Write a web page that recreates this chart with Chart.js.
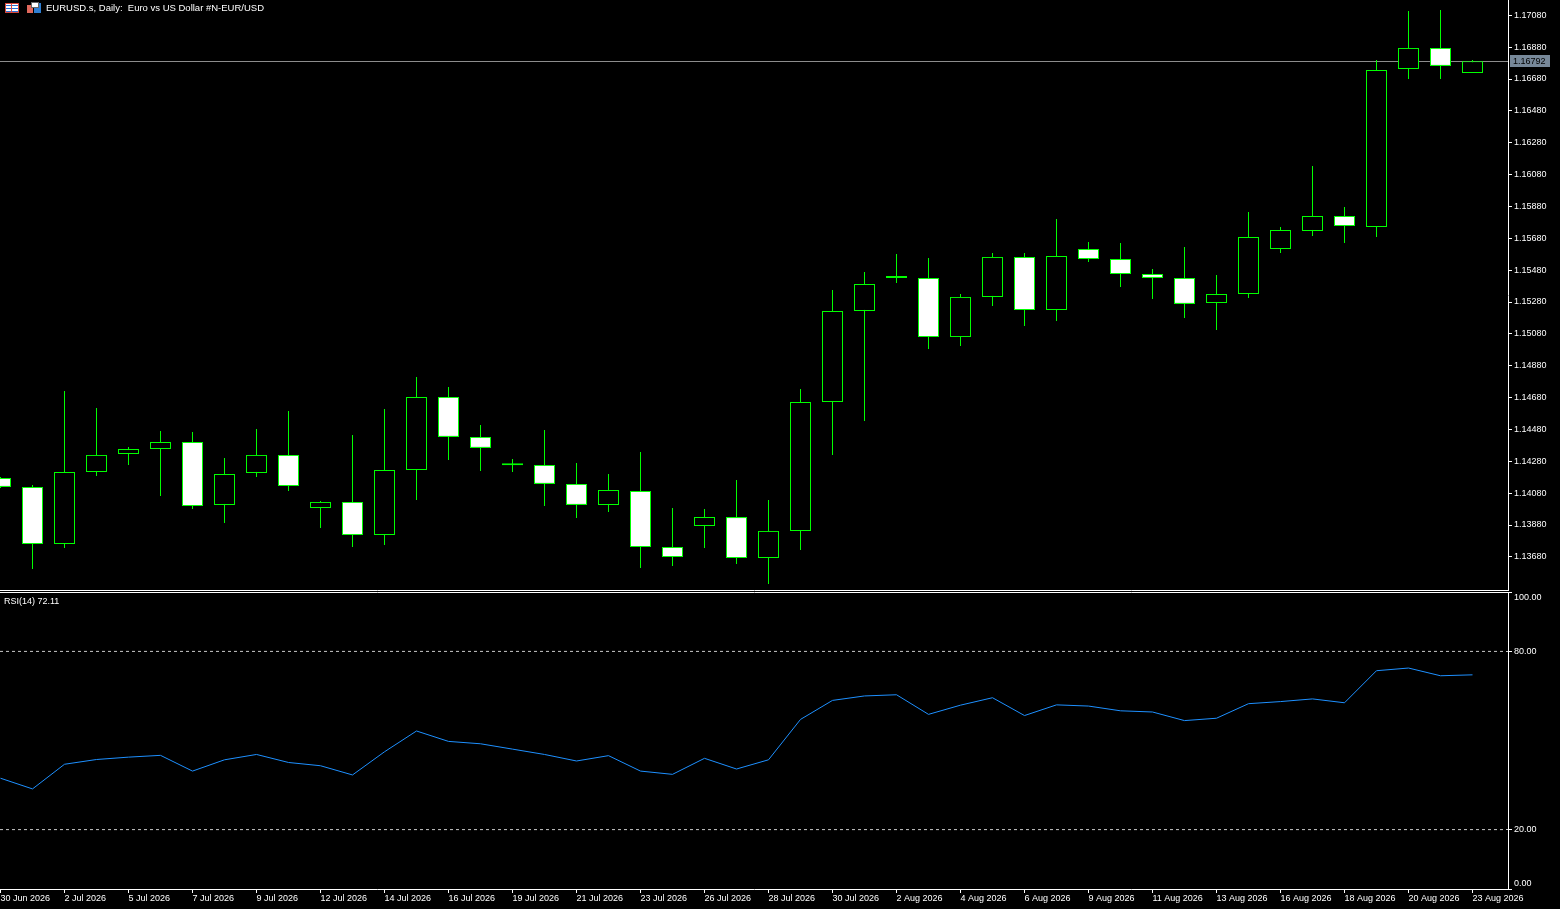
<!DOCTYPE html>
<html>
<head>
<meta charset="utf-8">
<title>EURUSD.s, Daily</title>
<script src="https://cdn.jsdelivr.net/npm/chart.js@4.4.1/dist/chart.umd.min.js"></script>
<style>
    html, body { margin: 0; padding: 0; background: #000; overflow: hidden; }
    #wrap { position: relative; width: 1560px; height: 909px; background: #000; }
    canvas { position: absolute; left: 0; }
    #main { top: 0; }
    #rsi { top: 591px; }
    .lbl { position: absolute; color: #fff; font-family: "Liberation Sans", Arial, sans-serif; white-space: pre; }
    #title { left: 46px; top: 2px; font-size: 9.5px; line-height: 12px; }
    #rsiTitle { left: 4px; top: 595px; font-size: 9px; line-height: 12px; }
    .icon { position: absolute; }
    #icon1 { left: 5px; top: 3px; width: 12px; height: 8px; border: 1px solid #d9483b;
             background: repeating-linear-gradient(180deg, #fff 0 1px, #2a6fd6 1px 2px, #fff 2px 3px); }
    #icon1:after { content: ""; position: absolute; left: 5px; top: 0; width: 1px; height: 8px; background: #d9483b; }
    #icon2 { left: 27px; top: 2px; width: 14px; height: 11px; }
    #icon2 .a { position: absolute; left: 0; top: 3px; width: 6px; height: 8px; background: #e0685c; }
    #icon2 .b { position: absolute; left: 7px; top: 1px; width: 7px; height: 10px; background: #2f7fd2; }
    #icon2 .c { position: absolute; left: 4px; top: 0; width: 6px; height: 4px; background: #fff; border: 1px solid #666; }
</style>
</head>
<body>
<div id="wrap">
    <canvas id="main" width="1560" height="591"></canvas>
    <canvas id="rsi" width="1560" height="318"></canvas>
    <div class="icon" id="icon1"></div>
    <div class="icon" id="icon2"><div class="a"></div><div class="b"></div><div class="c"></div></div>
    <div class="lbl" id="title">EURUSD.s, Daily:  Euro vs US Dollar #N-EUR/USD</div>
    <div class="lbl" id="rsiTitle">RSI(14) 72.11</div>
</div>
<script>
// tick labels on the time axis (one every second bar)
const tickDates = ['30 Jun 2026', '2 Jul 2026', '5 Jul 2026', '7 Jul 2026', '9 Jul 2026', '12 Jul 2026',
    '14 Jul 2026', '16 Jul 2026', '19 Jul 2026', '21 Jul 2026', '23 Jul 2026', '26 Jul 2026',
    '28 Jul 2026', '30 Jul 2026', '2 Aug 2026', '4 Aug 2026', '6 Aug 2026', '9 Aug 2026',
    '11 Aug 2026', '13 Aug 2026', '16 Aug 2026', '18 Aug 2026', '20 Aug 2026', '23 Aug 2026'];

const opens = [1.14175, 1.14119, 1.13761, 1.14213, 1.14326, 1.14357, 1.14401, 1.14006, 1.14207, 1.14320,
    1.13987, 1.14025, 1.13817, 1.14225, 1.14684, 1.14433, 1.14259, 1.14257, 1.14138, 1.14006,
    1.14094, 1.13742, 1.13874, 1.13930, 1.13673, 1.13843, 1.14652, 1.15224, 1.15431, 1.15431,
    1.15060, 1.15312, 1.15563, 1.15230, 1.15613, 1.15550, 1.15456, 1.15431, 1.15274, 1.15330,
    1.15613, 1.15726, 1.15820, 1.15751, 1.16743, 1.16875, 1.16718];
const highs = [1.14182, 1.14131, 1.14721, 1.14615, 1.14370, 1.14470, 1.14464, 1.14301, 1.14483, 1.14596,
    1.14031, 1.14445, 1.14608, 1.14809, 1.14747, 1.14508, 1.14294, 1.14477, 1.14269, 1.14200,
    1.14338, 1.13987, 1.13981, 1.14163, 1.14037, 1.14734, 1.15356, 1.15469, 1.15582, 1.15556,
    1.15330, 1.15588, 1.15588, 1.15801, 1.15657, 1.15651, 1.15487, 1.15625, 1.15450, 1.15845,
    1.15751, 1.16134, 1.15877, 1.16799, 1.17107, 1.17113, 1.16799];
const lows = [1.14112, 1.13604, 1.13736, 1.14188, 1.14257, 1.14062, 1.13981, 1.13893, 1.14182, 1.14094,
    1.13861, 1.13742, 1.13755, 1.14037, 1.14288, 1.14219, 1.14213, 1.13999, 1.13924, 1.13962,
    1.13610, 1.13623, 1.13736, 1.13635, 1.13510, 1.13723, 1.14320, 1.14533, 1.15399, 1.14985,
    1.15004, 1.15255, 1.15130, 1.15161, 1.15531, 1.15374, 1.15299, 1.15180, 1.15104, 1.15305,
    1.15588, 1.15695, 1.15651, 1.15688, 1.16680, 1.16680, 1.16718];
const closes = [1.14119, 1.13761, 1.14213, 1.14320, 1.14357, 1.14401, 1.13999, 1.14200, 1.14320, 1.14125,
    1.14025, 1.13817, 1.14225, 1.14684, 1.14433, 1.14364, 1.14255, 1.14138, 1.14006, 1.14100,
    1.13742, 1.13679, 1.13930, 1.13673, 1.13843, 1.14652, 1.15224, 1.15393, 1.15437, 1.15060,
    1.15312, 1.15563, 1.15230, 1.15569, 1.15550, 1.15456, 1.15431, 1.15268, 1.15330, 1.15688,
    1.15732, 1.15820, 1.15757, 1.16737, 1.16875, 1.16762, 1.16792];

const rsiValues = [37.3, 33.7, 42.0, 43.6, 44.4, 45.0, 39.7, 43.5, 45.3, 42.6,
    41.5, 38.4, 46.2, 53.2, 49.7, 48.9, 47.1, 45.3, 43.1, 44.9,
    39.7, 38.6, 44.0, 40.4, 43.5, 57.1, 63.5, 65.0, 65.4, 58.8,
    61.9, 64.4, 58.4, 62.0, 61.6, 60.0, 59.6, 56.7, 57.5, 62.4,
    63.1, 64.0, 62.7, 73.5, 74.4, 71.8, 72.11];

const priceTicks = [1.13680, 1.13880, 1.14080, 1.14280, 1.14480, 1.14680, 1.14880, 1.15080, 1.15280,
    1.15480, 1.15680, 1.15880, 1.16080, 1.16280, 1.16480, 1.16680, 1.16880, 1.17080];
const rsiTicks = [0, 20, 80, 100];
const rsiLevels = [80, 20];

// 32 px per bar, chart shifted so the last bar leaves a gap on the right
const xMin = -1 / 64;
const xMax = 47.125 - 1 / 64;

Chart.defaults.font.family = '"Liberation Sans", Arial, sans-serif';
Chart.defaults.font.size = 9;
Chart.defaults.color = '#ffffff';

const bodyData = opens.map((o, i) => ({ x: i, y: [o, closes[i]] }));
const wickData = lows.map((l, i) => ({ x: i, y: [l, highs[i]] }));
const bodyFill = opens.map((o, i) => closes[i] > o ? '#000000' : '#ffffff');

const lastPrice = closes[closes.length - 1];

const pricePlugin = {
    id: 'pricePlugin',
    beforeDatasetsDraw(chart) {
        const { ctx, chartArea, scales } = chart;
        const y = Math.round(scales.y.getPixelForValue(lastPrice)) + 0.5;
        ctx.save();
        ctx.strokeStyle = '#8c8c8c';
        ctx.lineWidth = 1;
        ctx.beginPath();
        ctx.moveTo(chartArea.left, y);
        ctx.lineTo(chartArea.right, y);
        ctx.stroke();
        ctx.restore();
    },
    afterDraw(chart) {
        const { ctx, chartArea, scales } = chart;
        ctx.save();
        // pane bottom edge
        ctx.strokeStyle = '#ffffff';
        ctx.lineWidth = 1;
        ctx.beginPath();
        ctx.moveTo(chartArea.left, chartArea.bottom + 0.5);
        ctx.lineTo(chartArea.right + 1, chartArea.bottom + 0.5);
        ctx.stroke();
        // current price tag
        const y = Math.round(scales.y.getPixelForValue(lastPrice));
        ctx.fillStyle = '#778899';
        ctx.fillRect(chartArea.right + 2, y - 6, 40, 12);
        ctx.fillStyle = '#000000';
        ctx.font = '9px "Liberation Sans", Arial, sans-serif';
        ctx.textBaseline = 'middle';
        ctx.fillText(lastPrice.toFixed(5), chartArea.right + 5, y + 0.5);
        ctx.restore();
    }
};

const paneTopPlugin = {
    id: 'paneTopPlugin',
    afterDraw(chart) {
        const { ctx, chartArea } = chart;
        ctx.save();
        ctx.strokeStyle = '#ffffff';
        ctx.lineWidth = 1;
        ctx.beginPath();
        ctx.moveTo(chartArea.left, chartArea.top + 0.5);
        ctx.lineTo(chartArea.right + 1, chartArea.top + 0.5);
        ctx.stroke();
        ctx.restore();
    }
};

new Chart(document.getElementById('main'), {
    type: 'bar',
    data: {
        datasets: [{
            label: 'body',
            data: bodyData,
            backgroundColor: bodyFill,
            borderColor: '#00ff00',
            borderWidth: 1,
            borderSkipped: false,
            barThickness: 21,
            minBarLength: 2,
            grouped: false,
            inflateAmount: 0,
            order: 0
        }, {
            label: 'wick',
            data: wickData,
            backgroundColor: '#00ff00',
            borderWidth: 0,
            barThickness: 1,
            grouped: false,
            inflateAmount: 0,
            order: 1
        }]
    },
    options: {
        responsive: false,
        animation: false,
        devicePixelRatio: 1,
        layout: { padding: { top: 0, bottom: 1, left: 0, right: 0 } },
        plugins: { legend: { display: false }, tooltip: { enabled: false } },
        scales: {
            x: { type: 'linear', min: xMin, max: xMax, offset: false, display: false },
            y: {
                type: 'linear',
                position: 'right',
                min: 1.13472,
                max: 1.17176,
                afterBuildTicks: s => { s.ticks = priceTicks.map(v => ({ value: v })); },
                afterFit: s => { s.width = 52; s.paddingTop = 0; s.paddingBottom = 0; },
                ticks: { color: '#ffffff', padding: 2, callback: v => v.toFixed(5) },
                grid: { drawOnChartArea: false, drawTicks: true, tickLength: 4, tickColor: '#ffffff' },
                border: { color: '#ffffff', width: 1 }
            }
        }
    },
    plugins: [pricePlugin]
});

new Chart(document.getElementById('rsi'), {
    type: 'line',
    data: {
        datasets: [{
            label: 'RSI(14)',
            data: rsiValues.map((v, i) => ({ x: i, y: v })),
            borderColor: '#1e90ff',
            borderWidth: 1,
            pointRadius: 0,
            tension: 0,
            fill: false
        }].concat(rsiLevels.map(l => ({
            label: 'level ' + l,
            data: [{ x: xMin, y: l }, { x: xMax, y: l }],
            borderColor: '#c8c8c8',
            borderWidth: 1,
            borderDash: [3, 3],
            pointRadius: 0,
            fill: false
        })))
    },
    options: {
        responsive: false,
        animation: false,
        devicePixelRatio: 1,
        layout: { padding: { top: 1, bottom: 0, left: 0, right: 0 } },
        plugins: { legend: { display: false }, tooltip: { enabled: false } },
        scales: {
            x: {
                type: 'linear',
                min: xMin,
                max: xMax,
                offset: false,
                afterBuildTicks: s => { s.ticks = tickDates.map((d, k) => ({ value: 2 * k })); },
                afterFit: s => { s.height = 20; s.paddingLeft = 0; s.paddingRight = 0; },
                ticks: {
                    color: '#ffffff', autoSkip: false, maxRotation: 0, minRotation: 0,
                    align: 'start', padding: 0,
                    callback: (v, idx) => tickDates[idx]
                },
                grid: { drawOnChartArea: false, tickLength: 4, tickColor: '#ffffff' },
                border: { color: '#ffffff', width: 1 }
            },
            y: {
                type: 'linear',
                position: 'right',
                min: 0,
                max: 100,
                afterBuildTicks: s => { s.ticks = rsiTicks.map(v => ({ value: v })); },
                afterFit: s => { s.width = 52; s.paddingTop = 0; s.paddingBottom = 0; },
                ticks: {
                    color: '#ffffff', padding: 2,
                    callback: v => v === 100 ? ['', '100.00'] : v === 0 ? ['0.00', ''] : v.toFixed(2)
                },
                grid: { drawOnChartArea: false, tickLength: 4, tickColor: '#ffffff' },
                border: { color: '#ffffff', width: 1 }
            }
        }
    },
    plugins: [paneTopPlugin]
});
</script>
</body>
</html>
